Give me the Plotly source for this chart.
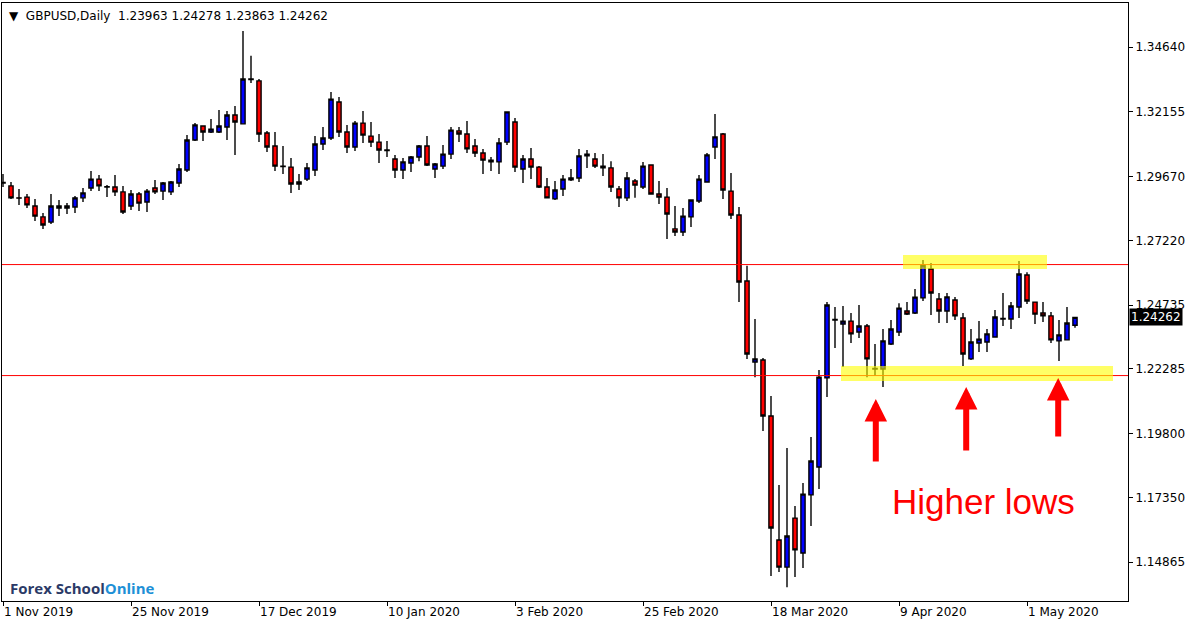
import plotly.graph_objects as go

# GBPUSD daily bars, 1 Nov 2019 .. 11 May 2020
opens = [
	1.2942, 1.2931, 1.2885, 1.2888, 1.2854, 1.2812, 1.2792, 1.2854, 1.2846, 1.2850,
	1.2885, 1.2923, 1.2957, 1.2927, 1.2927, 1.2908, 1.2854, 1.2900, 1.2869, 1.2923,
	1.2911, 1.2908, 1.2942, 1.2992, 1.3107, 1.3161, 1.3138, 1.3138, 1.3157, 1.3203,
	1.3169, 1.3341, 1.3334, 1.3134, 1.3084, 1.3007, 1.3003, 1.2938, 1.2957, 1.2992,
	1.3092, 1.3115, 1.3253, 1.3138, 1.3080, 1.3172, 1.3122, 1.3099, 1.3069, 1.3034,
	1.2992, 1.3019, 1.3042, 1.3084, 1.2996, 1.3007, 1.3053, 1.3142, 1.3130, 1.3084,
	1.3057, 1.3030, 1.3023, 1.3099, 1.3176, 1.2996, 1.3034, 1.3003, 1.2927, 1.2881,
	1.2919, 1.2954, 1.2961, 1.3046, 1.3034, 1.3007, 1.3000, 1.2919, 1.2885, 1.2950,
	1.2927, 1.3011, 1.2900, 1.2888, 1.2766, 1.2754, 1.2812, 1.2873, 1.2946, 1.3080,
	1.3130, 1.2911, 1.2819, 1.2566, 1.2255, 1.2263, 1.2048, 1.1572, 1.1468, 1.1656,
	1.1522, 1.1745, 1.1852, 1.2194, 1.2416, 1.2401, 1.2412, 1.2370, 1.2393, 1.2228,
	1.2228, 1.2324, 1.2370, 1.2451, 1.2443, 1.2501, 1.2612, 1.2497, 1.2451, 1.2493,
	1.2424, 1.2267, 1.2328, 1.2332, 1.2351, 1.2420, 1.2420, 1.2466, 1.2589, 1.2485,
	1.2443, 1.2432, 1.2336, 1.2340, 1.23963
]
highs = [
	1.2977, 1.2946, 1.2919, 1.2900, 1.2881, 1.2827, 1.2900, 1.2877, 1.2865, 1.2892,
	1.2923, 1.2988, 1.2973, 1.2934, 1.2973, 1.2931, 1.2915, 1.2908, 1.2919, 1.2954,
	1.2946, 1.2950, 1.3015, 1.3126, 1.3172, 1.3163, 1.3188, 1.3222, 1.3218, 1.3238,
	1.3525, 1.3430, 1.3341, 1.3142, 1.3138, 1.3084, 1.3038, 1.2977, 1.3019, 1.3122,
	1.3157, 1.3291, 1.3272, 1.3165, 1.3180, 1.3218, 1.3176, 1.3130, 1.3103, 1.3050,
	1.3038, 1.3046, 1.3088, 1.3122, 1.3019, 1.3088, 1.3157, 1.3157, 1.3180, 1.3111,
	1.3073, 1.3042, 1.3115, 1.3217, 1.3192, 1.3050, 1.3076, 1.3007, 1.2961, 1.2950,
	1.2973, 1.2996, 1.3073, 1.3069, 1.3057, 1.3053, 1.3026, 1.2931, 1.2984, 1.2957,
	1.3023, 1.3013, 1.2950, 1.2923, 1.2854, 1.2846, 1.2877, 1.2973, 1.3057, 1.3207,
	1.3134, 1.2980, 1.2850, 1.2624, 1.2420, 1.2270, 1.2125, 1.1783, 1.1925, 1.1702,
	1.1791, 1.1967, 1.2224, 1.2485, 1.2466, 1.2470, 1.2443, 1.2474, 1.2401, 1.2324,
	1.2382, 1.2416, 1.2481, 1.2485, 1.2535, 1.2647, 1.2635, 1.2520, 1.2520, 1.2505,
	1.2443, 1.2382, 1.2412, 1.2382, 1.2455, 1.2520, 1.2485, 1.2643, 1.2600, 1.2487,
	1.2485, 1.2447, 1.2416, 1.2466, 1.24278
]
lows = [
	1.2927, 1.2881, 1.2858, 1.2846, 1.2796, 1.2766, 1.2785, 1.2815, 1.2823, 1.2827,
	1.2869, 1.2911, 1.2911, 1.2888, 1.2892, 1.2823, 1.2838, 1.2835, 1.2831, 1.2900,
	1.2877, 1.2896, 1.2927, 1.2984, 1.3103, 1.3103, 1.3134, 1.3134, 1.3107, 1.3050,
	1.3169, 1.3326, 1.3099, 1.3061, 1.2988, 1.2977, 1.2904, 1.2915, 1.2950, 1.2969,
	1.3069, 1.3107, 1.3119, 1.3057, 1.3065, 1.3096, 1.3080, 1.3019, 1.3042, 1.2961,
	1.2957, 1.2984, 1.3026, 1.3007, 1.2961, 1.2996, 1.3034, 1.3099, 1.3057, 1.3042,
	1.2977, 1.2988, 1.2977, 1.3088, 1.2984, 1.2942, 1.2957, 1.2923, 1.2884, 1.2877,
	1.2892, 1.2950, 1.2946, 1.3000, 1.3000, 1.2969, 1.2908, 1.2850, 1.2873, 1.2885,
	1.2919, 1.2898, 1.2861, 1.2727, 1.2739, 1.2739, 1.2773, 1.2865, 1.2946, 1.3034,
	1.2881, 1.2804, 1.2485, 1.2267, 1.2197, 1.1990, 1.1434, 1.1449, 1.1391, 1.1430,
	1.1464, 1.1626, 1.1768, 1.2121, 1.2309, 1.2236, 1.2328, 1.2347, 1.2197, 1.2201,
	1.2159, 1.2320, 1.2355, 1.2435, 1.2439, 1.2489, 1.2435, 1.2405, 1.2405, 1.2416,
	1.2240, 1.2263, 1.2293, 1.2293, 1.2351, 1.2393, 1.2382, 1.2424, 1.2478, 1.2401,
	1.2409, 1.2328, 1.2259, 1.2340, 1.23863
]
closes = [
	1.2944, 1.2885, 1.2884, 1.2858, 1.2815, 1.2781, 1.2854, 1.2846, 1.2854, 1.2885,
	1.2904, 1.2957, 1.2931, 1.2928, 1.2908, 1.2831, 1.2900, 1.2865, 1.2911, 1.2908,
	1.2942, 1.2946, 1.2996, 1.3107, 1.3165, 1.3138, 1.3149, 1.3161, 1.3203, 1.3176,
	1.3341, 1.3339, 1.3130, 1.3080, 1.3007, 1.3005, 1.2938, 1.2946, 1.3000, 1.3092,
	1.3115, 1.3264, 1.3138, 1.3080, 1.3172, 1.3126, 1.3099, 1.3069, 1.3067, 1.2992,
	1.3023, 1.3042, 1.3084, 1.3011, 1.3015, 1.3053, 1.3145, 1.3130, 1.3073, 1.3057,
	1.3030, 1.3023, 1.3096, 1.3215, 1.3003, 1.3034, 1.3003, 1.2927, 1.2885, 1.2915,
	1.2957, 1.2961, 1.3046, 1.3053, 1.3007, 1.3000, 1.2927, 1.2885, 1.2961, 1.2934,
	1.3007, 1.2900, 1.2888, 1.2823, 1.2754, 1.2815, 1.2877, 1.2957, 1.3050, 1.3119,
	1.2915, 1.2819, 1.2562, 1.2286, 1.2267, 1.2048, 1.1618, 1.1468, 1.1587, 1.1534,
	1.1748, 1.1875, 1.2197, 1.2474, 1.2418, 1.2412, 1.2363, 1.2393, 1.2267, 1.2230,
	1.2336, 1.2382, 1.2462, 1.2439, 1.2504, 1.2627, 1.2520, 1.2451, 1.2505, 1.2432,
	1.2286, 1.2332, 1.2343, 1.2363, 1.2428, 1.2422, 1.2470, 1.2593, 1.2489, 1.2439,
	1.2432, 1.2340, 1.2359, 1.2405, 1.24262
]
bars = list(range(len(opens)))

date_bars = [0, 16, 32, 48, 64, 80, 96, 112, 128]
date_labels = ["1 Nov 2019", "25 Nov 2019", "17 Dec 2019", "10 Jan 2020", "3 Feb 2020",
	"25 Feb 2020", "18 Mar 2020", "9 Apr 2020", "1 May 2020"]
price_ticks = [1.34640, 1.32155, 1.29670, 1.27220, 1.24735, 1.22285, 1.19800, 1.17350, 1.14865]

resistance = 1.2629
support = 1.2203
last_price = 1.24262

# highlight zones: (first bar, last bar, low, high)
top_zone = (112.5, 130.5, 1.2612, 1.2666)
bottom_zone = (104.75, 138.75, 1.2182, 1.2240)

# higher-low arrows: (bar, price at arrow tip, length px)
arrows = [(109.1, 1.2113, 64), (120.4, 1.2159, 65), (131.9, 1.2194, 60)]

font_name = "DejaVu Sans"

fig = go.Figure()

fig.add_trace(
	go.Candlestick(
		x=bars,
		open=opens,
		high=highs,
		low=lows,
		close=closes,
		increasing=dict(fillcolor='#0000FF', line=dict(color='black', width=1.4)),
		decreasing=dict(fillcolor='#FF0000', line=dict(color='black', width=1.4)),
		whiskerwidth=0,
		hoverinfo='none',
		showlegend=False
	)
)

for level in [resistance, support]:
	fig.add_shape(
		type='line', xref='paper', x0=0, x1=1, y0=level, y1=level,
		line=dict(color='#FF0000', width=1)
	)

for zone in [top_zone, bottom_zone]:
	fig.add_shape(
		type='rect', x0=zone[0], x1=zone[1], y0=zone[2], y1=zone[3],
		fillcolor='rgba(255, 255, 0, 0.6)', line=dict(width=0), layer='above'
	)

for bar, tip, length in arrows:
	fig.add_annotation(
		x=bar, y=tip, ax=0, ay=length, text='',
		showarrow=True, arrowhead=2, arrowsize=0.75, arrowwidth=6, arrowcolor='#FF0000'
	)

fig.add_annotation(
	x=122.5, y=1.1718, text='Higher lows', showarrow=False,
	font=dict(family='Liberation Sans', size=35, color='#FF0000')
)

fig.add_annotation(
	xref='paper', yref='paper', x=0.004, y=0.993, xanchor='left', yanchor='top',
	text='\u25bc  GBPUSD,Daily  1.23963 1.24278 1.23863 1.24262', showarrow=False,
	font=dict(family=font_name, size=12, color='black')
)

fig.add_annotation(
	xref='paper', y=last_price, x=1, xanchor='left', xshift=1,
	text='1.24262', showarrow=False, bgcolor='black', borderpad=1,
	font=dict(family=font_name, size=12, color='white')
)

fig.add_annotation(
	xref='paper', yref='paper', x=0.005, y=0.022, xanchor='left', yanchor='middle',
	text="<b><span style='color:#2B3A67'>Forex School</span><span style='color:#1E90D6'>Online</span></b>",
	showarrow=False, font=dict(family='Open Sans', size=15)
)

fig.update_layout(
	width=1200,
	height=627,
	margin=dict(l=2, r=72, t=3, b=26),
	paper_bgcolor='white',
	plot_bgcolor='white',
	boxgap=0.25,
	font=dict(family=font_name, size=12, color='black'),
	showlegend=False
)

fig.update_xaxes(
	range=[-0.125, 140.625],
	rangeslider_visible=False,
	tickvals=date_bars,
	ticktext=date_labels,
	ticklabelposition='outside right',
	ticks='outside',
	ticklen=4,
	tickcolor='black',
	showgrid=False,
	zeroline=False,
	showline=True,
	linecolor='black',
	linewidth=1,
	mirror=True
)

fig.update_yaxes(
	side='right',
	range=[1.13378, 1.36329],
	tickvals=price_ticks,
	ticktext=['%.5f' % p for p in price_ticks],
	ticks='outside',
	ticklen=4,
	tickcolor='black',
	showgrid=False,
	zeroline=False,
	showline=True,
	linecolor='black',
	linewidth=1,
	mirror=True
)

# page body margin would shift the chart by 8px
fig.write_html(
	"out.html",
	config={'displayModeBar': False},
	post_script="document.body.style.margin='0';"
)
